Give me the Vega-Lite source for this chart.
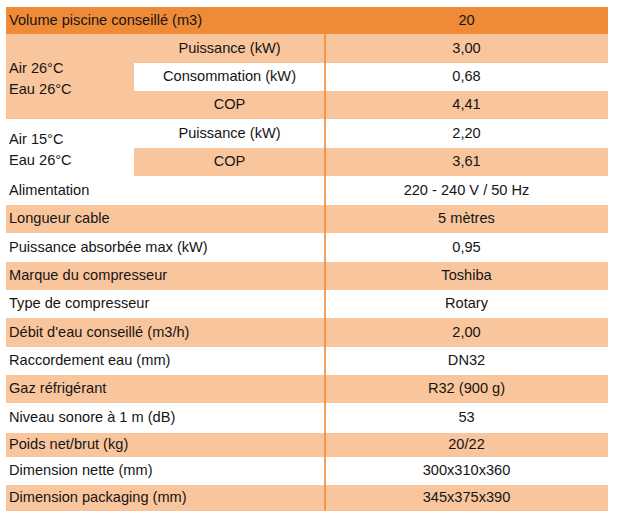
{
  "$schema": "https://vega.github.io/schema/vega-lite/v6.json",
  "width": 602,
  "height": 504,
  "autosize": {"type": "none"},
  "padding": {"left": 6, "top": 7, "right": 9, "bottom": 8},
  "background": "#ffffff",
  "config": {"view": {"stroke": null}, "text": {"font": "Liberation Sans", "fontSize": 14.6, "color": "#151515"}},
  "datasets": {
    "cells": [
      {"c0": 0, "c1": 3, "r0": 0, "r1": 1, "shade": "header"},
      {"c0": 0, "c1": 1, "r0": 1, "r1": 4, "shade": "peach"},
      {"c0": 1, "c1": 3, "r0": 1, "r1": 2, "shade": "peach"},
      {"c0": 1, "c1": 3, "r0": 2, "r1": 3, "shade": "white"},
      {"c0": 1, "c1": 3, "r0": 3, "r1": 4, "shade": "peach"},
      {"c0": 0, "c1": 1, "r0": 4, "r1": 6, "shade": "white"},
      {"c0": 1, "c1": 3, "r0": 4, "r1": 5, "shade": "white"},
      {"c0": 1, "c1": 3, "r0": 5, "r1": 6, "shade": "peach"},
      {"c0": 0, "c1": 3, "r0": 6, "r1": 7, "shade": "white"},
      {"c0": 0, "c1": 3, "r0": 7, "r1": 8, "shade": "peach"},
      {"c0": 0, "c1": 3, "r0": 8, "r1": 9, "shade": "white"},
      {"c0": 0, "c1": 3, "r0": 9, "r1": 10, "shade": "peach"},
      {"c0": 0, "c1": 3, "r0": 10, "r1": 11, "shade": "white"},
      {"c0": 0, "c1": 3, "r0": 11, "r1": 12, "shade": "peach"},
      {"c0": 0, "c1": 3, "r0": 12, "r1": 13, "shade": "white"},
      {"c0": 0, "c1": 3, "r0": 13, "r1": 14, "shade": "peach"},
      {"c0": 0, "c1": 3, "r0": 14, "r1": 15, "shade": "white"},
      {"c0": 0, "c1": 3, "r0": 15, "r1": 16, "shade": "peach"},
      {"c0": 0, "c1": 3, "r0": 16, "r1": 17, "shade": "white"},
      {"c0": 0, "c1": 3, "r0": 17, "r1": 18, "shade": "peach"}
    ],
    "texts": [
      {"t": "Volume piscine conseillé (m3)", "c0": 0, "c1": 2, "r0": 0, "r1": 1},
      {"t": "20", "c0": 2, "c1": 3, "r0": 0, "r1": 1},
      {"t": "Air 26°C\nEau 26°C", "c0": 0, "c1": 1, "r0": 1, "r1": 4},
      {"t": "Puissance (kW)", "c0": 1, "c1": 2, "r0": 1, "r1": 2},
      {"t": "Consommation (kW)", "c0": 1, "c1": 2, "r0": 2, "r1": 3},
      {"t": "COP", "c0": 1, "c1": 2, "r0": 3, "r1": 4},
      {"t": "Air 15°C\nEau 26°C", "c0": 0, "c1": 1, "r0": 4, "r1": 6},
      {"t": "Puissance (kW)", "c0": 1, "c1": 2, "r0": 4, "r1": 5},
      {"t": "COP", "c0": 1, "c1": 2, "r0": 5, "r1": 6},
      {"t": "3,00", "c0": 2, "c1": 3, "r0": 1, "r1": 2},
      {"t": "0,68", "c0": 2, "c1": 3, "r0": 2, "r1": 3},
      {"t": "4,41", "c0": 2, "c1": 3, "r0": 3, "r1": 4},
      {"t": "2,20", "c0": 2, "c1": 3, "r0": 4, "r1": 5},
      {"t": "3,61", "c0": 2, "c1": 3, "r0": 5, "r1": 6},
      {"t": "Alimentation", "c0": 0, "c1": 2, "r0": 6, "r1": 7},
      {"t": "220 - 240 V / 50 Hz", "c0": 2, "c1": 3, "r0": 6, "r1": 7},
      {"t": "Longueur cable", "c0": 0, "c1": 2, "r0": 7, "r1": 8},
      {"t": "5 mètres", "c0": 2, "c1": 3, "r0": 7, "r1": 8},
      {"t": "Puissance absorbée max (kW)", "c0": 0, "c1": 2, "r0": 8, "r1": 9},
      {"t": "0,95", "c0": 2, "c1": 3, "r0": 8, "r1": 9},
      {"t": "Marque du compresseur", "c0": 0, "c1": 2, "r0": 9, "r1": 10},
      {"t": "Toshiba", "c0": 2, "c1": 3, "r0": 9, "r1": 10},
      {"t": "Type de compresseur", "c0": 0, "c1": 2, "r0": 10, "r1": 11},
      {"t": "Rotary", "c0": 2, "c1": 3, "r0": 10, "r1": 11},
      {"t": "Débit d'eau conseillé (m3/h)", "c0": 0, "c1": 2, "r0": 11, "r1": 12},
      {"t": "2,00", "c0": 2, "c1": 3, "r0": 11, "r1": 12},
      {"t": "Raccordement eau (mm)", "c0": 0, "c1": 2, "r0": 12, "r1": 13},
      {"t": "DN32", "c0": 2, "c1": 3, "r0": 12, "r1": 13},
      {"t": "Gaz réfrigérant", "c0": 0, "c1": 2, "r0": 13, "r1": 14},
      {"t": "R32 (900 g)", "c0": 2, "c1": 3, "r0": 13, "r1": 14},
      {"t": "Niveau sonore à 1 m (dB)", "c0": 0, "c1": 2, "r0": 14, "r1": 15},
      {"t": "53", "c0": 2, "c1": 3, "r0": 14, "r1": 15},
      {"t": "Poids net/brut (kg)", "c0": 0, "c1": 2, "r0": 15, "r1": 16},
      {"t": "20/22", "c0": 2, "c1": 3, "r0": 15, "r1": 16},
      {"t": "Dimension nette (mm)", "c0": 0, "c1": 2, "r0": 16, "r1": 17},
      {"t": "300x310x360", "c0": 2, "c1": 3, "r0": 16, "r1": 17},
      {"t": "Dimension packaging (mm)", "c0": 0, "c1": 2, "r0": 17, "r1": 18},
      {"t": "345x375x390", "c0": 2, "c1": 3, "r0": 17, "r1": 18}
    ],
    "dividers": [{"c": 2, "r0": 1, "r1": 18}]
  },
  "layer": [
    {
      "data": {"name": "cells"},
      "mark": {"type": "rect", "strokeWidth": 0},
      "encoding": {
        "x": {"field": "c0", "type": "quantitative", "axis": null, "scale": {"domain": [0, 1, 2, 3], "range": [0, 128, 319, 602]}},
        "x2": {"field": "c1"},
        "y": {"field": "r0", "type": "quantitative", "axis": null, "scale": {"domain": [0, 1, 2, 3, 4, 5, 6, 7, 8, 9, 10, 11, 12, 13, 14, 15, 16, 17, 18], "range": [0, 27, 56, 84, 112, 141, 169, 198, 226, 255, 283, 311, 340, 368, 396, 426, 450, 478, 504]}},
        "y2": {"field": "r1"},
        "color": {"field": "shade", "type": "nominal", "legend": null, "scale": {"domain": ["header", "peach", "white"], "range": ["#EF8A37", "#F9C59C", "#FFFFFF"]}}
      }
    },
    {
      "data": {"name": "dividers"},
      "mark": {"type": "rule", "color": "#EF8A37", "strokeWidth": 1.6},
      "encoding": {
        "x": {"field": "c", "type": "quantitative"},
        "y": {"field": "r0", "type": "quantitative"},
        "y2": {"field": "r1"}
      }
    },
    {
      "data": {"name": "texts"},
      "transform": [
        {"filter": "datum.c0 == 0 && datum.r1 - datum.r0 == 1"},
        {"calculate": "(datum.r0 + datum.r1) / 2", "as": "ym"}
      ],
      "mark": {"type": "text", "align": "left", "baseline": "middle", "dx": 3},
      "encoding": {
        "x": {"field": "c0", "type": "quantitative"},
        "y": {"field": "ym", "type": "quantitative"},
        "text": {"field": "t"}
      }
    },
    {
      "data": {"name": "texts"},
      "transform": [
        {"filter": "datum.c0 == 0 && datum.r1 - datum.r0 > 1"},
        {"calculate": "(datum.r0 + datum.r1) / 2", "as": "ym"}
      ],
      "mark": {"type": "text", "align": "left", "baseline": "middle", "dx": 3, "dy": -8, "lineBreak": "\n", "lineHeight": 21},
      "encoding": {
        "x": {"field": "c0", "type": "quantitative"},
        "y": {"field": "ym", "type": "quantitative"},
        "text": {"field": "t"}
      }
    },
    {
      "data": {"name": "texts"},
      "transform": [
        {"filter": "datum.c0 > 0"},
        {"calculate": "(datum.r0 + datum.r1) / 2", "as": "ym"},
        {"calculate": "(datum.c0 + datum.c1) / 2", "as": "xm"}
      ],
      "mark": {"type": "text", "align": "center", "baseline": "middle"},
      "encoding": {
        "x": {"field": "xm", "type": "quantitative"},
        "y": {"field": "ym", "type": "quantitative"},
        "text": {"field": "t"}
      }
    }
  ]
}
